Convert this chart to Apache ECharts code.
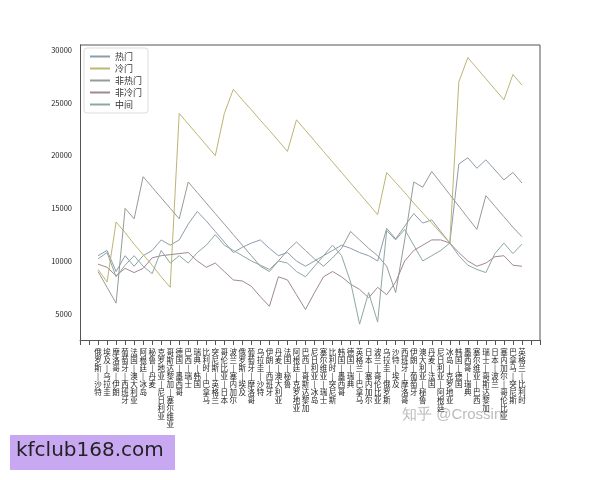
<!DOCTYPE html>
<html>
<head>
<meta charset="UTF-8">
<script src="https://cdn.jsdelivr.net/npm/echarts@6/dist/echarts.min.js"></script>
</head>
<body style="margin:0">
<div id="main" style="width:600px;height:480px"></div>
<script>
const matches = ['俄罗斯 - 沙特','埃及 - 乌拉圭','摩洛哥 - 伊朗','葡萄牙 - 西班牙','法国 - 澳大利亚','阿根廷 - 冰岛','秘鲁 - 丹麦','克罗地亚 - 尼日利亚','哥斯达黎加 - 塞尔维亚','德国 - 墨西哥','巴西 - 瑞士','瑞典 - 韩国','比利时 - 巴拿马','突尼斯 - 英格兰','哥伦比亚 - 日本','波兰 - 塞内加尔','俄罗斯 - 埃及','葡萄牙 - 摩洛哥','乌拉圭 - 沙特','伊朗 - 西班牙','丹麦 - 澳大利亚','法国 - 秘鲁','阿根廷 - 克罗地亚','巴西 - 哥斯达黎加','尼日利亚 - 冰岛','塞尔维亚 - 瑞士','比利时 - 突尼斯','韩国 - 墨西哥','德国 - 瑞典','英格兰 - 巴拿马','日本 - 塞内加尔','波兰 - 哥伦比亚','乌拉圭 - 俄罗斯','沙特 - 埃及','西班牙 - 摩洛哥','伊朗 - 葡萄牙','澳大利亚 - 秘鲁','丹麦 - 法国','尼日利亚 - 阿根廷','冰岛 - 克罗地亚','韩国 - 德国','墨西哥 - 瑞典','塞尔维亚 - 巴西','瑞士 - 哥斯达黎加','日本 - 波兰','塞内加尔 - 哥伦比亚','巴拿马 - 突尼斯','英格兰 - 比利时'];

const hot = [10500,11000,9000,10500,9500,10500,11000,12000,11500,12000,13500,14700,13800,12800,11800,10800,11300,11700,12000,11200,10500,10800,10000,9500,10000,10500,11000,11500,11200,10800,10500,10000,13100,12100,13300,14500,13600,13900,12800,11700,19200,19800,18800,19600,18650,17700,18400,17400];
const cold = [9200,8000,13700,12700,11600,10600,9600,8500,7500,24000,23000,22000,21000,20000,24000,26300,25300,24350,23350,22400,21400,20400,23400,22400,21400,20400,19400,18400,17400,16400,15400,14400,18400,17450,16500,15500,14550,13600,12650,11700,27000,29300,28300,27300,26300,25300,27700,26700];
const notHot = [9000,7500,6000,15000,14000,18000,17000,16000,15000,14000,17500,16500,15500,14500,13500,12500,11500,10500,9500,9000,10000,11000,11800,11000,10200,9500,10300,11200,12800,12000,11200,10500,9500,7000,12000,17500,17000,18500,17400,16300,15200,14100,13000,16200,15200,14200,13200,12300];
const notCold = [9700,9400,8600,9300,8900,9300,10300,10500,10600,10700,10800,10000,9400,9800,9000,8200,8100,7600,6600,5700,8500,8200,6800,5400,7000,8500,9000,8500,7800,7300,6500,7500,6800,8000,10000,11000,11500,12000,12000,11700,10800,10000,9500,9800,10400,10500,9600,9500];
const middle = [10200,10800,8500,9600,10500,9500,8800,11000,9800,10500,9800,10800,11500,12500,11500,11000,10500,10000,9600,9200,10000,9800,9000,8500,9500,10500,11500,10500,8000,4000,7000,4200,12900,12000,13000,11500,10000,10500,11000,11700,10500,9600,9200,8900,10700,11700,10700,11600];

const names = ['热门','冷门','非热门','非冷门','中间'];
const colors = ['#8d9caa','#bdb574','#949c94','#a08890','#8fa7a3'];
const seriesData = [hot, cold, notHot, notCold, middle];

const chart = echarts.init(document.getElementById('main'));
chart.setOption({
  animation: false,
  backgroundColor: '#fff',
  textStyle: { fontFamily: 'Noto Sans CJK SC' },
  color: colors,
  grid: { left: 80, right: 60, top: 45, bottom: 140 },
  legend: {
    orient: 'vertical', left: 84, top: 48,
    itemWidth: 20, itemHeight: 2, itemGap: 3, icon: 'rect',
    backgroundColor: '#fff', borderColor: '#ddd', borderWidth: 1, borderRadius: 3,
    padding: [4, 6], textStyle: { fontSize: 9, color: '#333' },
    data: names
  },
  xAxis: {
    type: 'category', data: matches, boundaryGap: false,
    min: -1.8, max: 48.8,
    axisLine: { onZero: false, lineStyle: { color: '#555' } },
    axisTick: { show: true, alignWithLabel: true, lineStyle: { color: '#555' } },
    axisLabel: {
      interval: 0, fontSize: 7.5, lineHeight: 8, color: '#222', verticalAlign: 'top',
      formatter: v => v.replace(/ /g, '').replace('-', '|').split('').join('\n')
    }
  },
  yAxis: {
    type: 'value', min: 2500, max: 30500, interval: 2500,
    splitLine: { show: false },
    axisLine: { show: true, lineStyle: { color: '#555' } },
    axisTick: { show: false },
    axisLabel: { fontSize: 7.5, color: '#222', formatter: v => v % 5000 === 0 ? v : '' }
  },
  graphic: [
    { type: 'line', shape: { x1: 80, y1: 45, x2: 540, y2: 45 }, style: { stroke: '#555' } },
    { type: 'line', shape: { x1: 540, y1: 45, x2: 540, y2: 340 }, style: { stroke: '#555' } },
    { type: 'text', left: 402, top: 407, style: { text: '知乎 @Crossin', fontSize: 15, fill: 'rgba(170,170,170,0.8)' } },
    { type: 'rect', shape: { x: 10, y: 435, width: 165, height: 35 }, style: { fill: '#c9a8f2' } },
    { type: 'text', left: 16, top: 441, style: { text: 'kfclub168.com', fontSize: 20, fill: '#222', fontFamily: 'DejaVu Sans' } }
  ],
  series: seriesData.map((d, i) => ({
    name: names[i], type: 'line', data: d, symbol: 'none',
    lineStyle: { width: 1, color: colors[i] }
  }))
});
</script>
</body>
</html>
